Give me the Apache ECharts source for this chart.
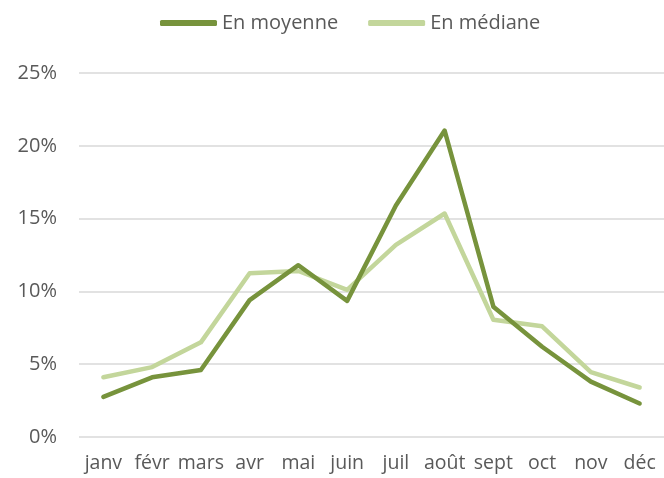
<!DOCTYPE html>
<html>
<head>
<meta charset="utf-8">
<script src="https://cdn.jsdelivr.net/npm/echarts@6/dist/echarts.min.js"></script>
<style>
  html, body { margin: 0; padding: 0; background: #fff; }
  #chart { width: 664px; height: 478px; }
</style>
</head>
<body>
<div id="chart"></div>
<script>
const months = ["janv", "févr", "mars", "avr", "mai", "juin", "juil", "août", "sept", "oct", "nov", "déc"];
const moyenne = [2.75, 4.1, 4.6, 9.4, 11.8, 9.35, 15.9, 21.05, 8.95, 6.2, 3.8, 2.3];
const mediane = [4.1, 4.8, 6.5, 11.25, 11.4, 10.1, 13.2, 15.35, 8.05, 7.6, 4.45, 3.4];
const yTicks = [0, 5, 10, 15, 20, 25];

const font = "'Open Sans', 'DejaVu Sans', sans-serif";
const textColor = "#595959";

var myChart = echarts.init(document.getElementById("chart"));
var option = {
  animation: false,
  textStyle: { fontFamily: font },
  legend: {
    data: ["En moyenne", "En médiane"],
    left: 155,
    top: 8,
    itemWidth: 57,
    itemHeight: 6,
    itemGap: 30,
    icon: "roundRect",
    textStyle: { fontFamily: font, fontSize: 20, color: textColor },
  },
  grid: { left: 79, right: 0, top: 73, bottom: 41, containLabel: false },
  xAxis: {
    type: "category",
    data: months,
    boundaryGap: true,
    axisLine: { show: false },
    axisTick: { show: false },
    axisLabel: { fontFamily: font, fontSize: 19.5, color: textColor, margin: 16, interval: 0 },
  },
  yAxis: {
    type: "value",
    min: yTicks[0],
    max: yTicks[yTicks.length - 1],
    interval: 5,
    axisLine: { show: false },
    axisTick: { show: false },
    axisLabel: { fontFamily: font, fontSize: 20, color: textColor, margin: 22, formatter: "{value}%" },
    splitLine: { lineStyle: { color: "#D9D9D9", width: 1.5 } },
  },
  series: [
    {
      name: "En moyenne",
      type: "line",
      data: moyenne,
      symbol: "none",
      z: 3,
      itemStyle: { color: "#77933C" },
      lineStyle: { color: "#77933C", width: 4.5, cap: "round", join: "round" },
    },
    {
      name: "En médiane",
      type: "line",
      data: mediane,
      symbol: "none",
      z: 2,
      itemStyle: { color: "#C3D69B" },
      lineStyle: { color: "#C3D69B", width: 4.5, cap: "round", join: "round" },
    },
  ],
};
myChart.setOption(option);
</script>
</body>
</html>
